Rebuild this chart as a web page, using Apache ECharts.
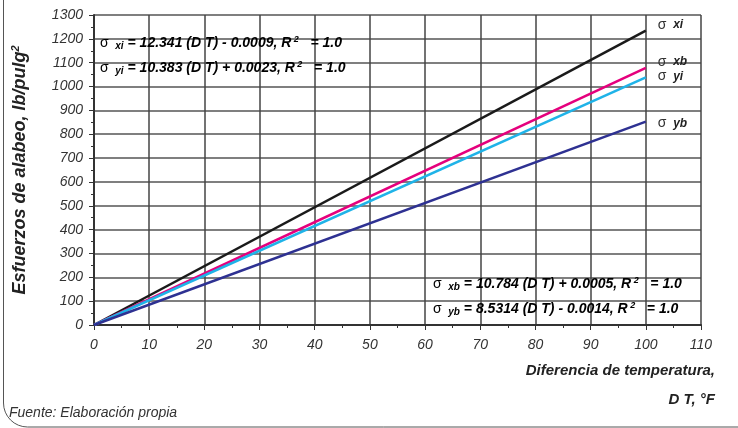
<!DOCTYPE html>
<html><head><meta charset="utf-8">
<script src="https://cdn.jsdelivr.net/npm/echarts@6/dist/echarts.min.js"></script>
<style>html,body{margin:0;padding:0;background:#fff}#c{width:738px;height:428px}</style>
</head><body><div id="c"></div>
<script>
const xValues = [0, 100];
const sigmaXi = [0, 1234.1];
const sigmaXb = [0, 1078.4];
const sigmaYi = [0, 1038.3];
const sigmaYb = [0, 853.1];
const seriesNames = ['xi', 'xb', 'yi', 'yb'];
const xTicks = [0, 10, 20, 30, 40, 50, 60, 70, 80, 90, 100, 110];
const yTicks = [0, 100, 200, 300, 400, 500, 600, 700, 800, 900, 1000, 1100, 1200, 1300];

const FF = '"Liberation Sans", Arial, sans-serif';
const chart = echarts.init(document.getElementById('c'));
function pairs(ys){ return xValues.map((x,i)=>[x, ys[i]]); }
const colors = ['#1a1a1a', '#e5007d', '#1fb3e8', '#2e3192'];
const offsets = [[4,-6],[4,-6],[4,-1],[4,2]];
const datas = [sigmaXi, sigmaXb, sigmaYi, sigmaYb];

const eqRich = {
  g: {fontFamily: FF, fontSize: 14, color: '#333', fontWeight: 'normal'},
  sub: {fontFamily: FF, fontSize: 10, fontStyle: 'italic', fontWeight: 'bold', color: '#222', verticalAlign: 'bottom', padding:[5,0,0,0]},
  b: {fontFamily: FF, fontSize: 14, fontStyle: 'italic', fontWeight: 'bold', color: '#222'},
  sup: {fontFamily: FF, fontSize: 9, fontStyle: 'italic', fontWeight: 'bold', color: '#222', verticalAlign: 'top', padding:[0,0,7,0]}
};
function eq(sub, rest1, rest2){
  return '{g|σ}  {sub|' + sub + '}{b| = ' + rest1 + ', R}{sup| 2}{b|   ' + rest2 + '}';
}

chart.setOption({
  animation: false,
  grid: {left: 94, right: 37, top: 15, bottom: 103},
  xAxis: {
    type: 'value', min: 0, max: 110, interval: 10,
    axisLine: {show: true, lineStyle: {color: '#333', width: 2}},
    axisTick: {show: true, length: 5, lineStyle: {color: '#333', width: 1}},
    minorTick: {show: true, splitNumber: 2, length: 3, lineStyle: {color: '#333'}},
    axisLabel: {fontFamily: FF, fontSize: 14, fontStyle: 'italic', color: '#333', margin: 13,
      formatter: v => xTicks.includes(v) ? String(v) : ''},
    splitLine: {show: true, lineStyle: {color: '#444', width: 1.5}}
  },
  yAxis: {
    type: 'value', min: 0, max: 1300, interval: 100,
    name: '{a|Esfuerzos de alabeo, lb/pulg}{s|2}',
    nameLocation: 'middle', nameGap: 64, nameRotate: 90,
    nameTextStyle: {rich: {
      a: {fontFamily: FF, fontSize: 18, fontStyle: 'italic', fontWeight: 'bold', color: '#222'},
      s: {fontFamily: FF, fontSize: 11, fontStyle: 'italic', fontWeight: 'bold', color: '#222', verticalAlign: 'top', padding:[0,0,9,0]}
    }},
    axisLine: {show: true, lineStyle: {color: '#333', width: 2}},
    axisTick: {show: true, length: 5, lineStyle: {color: '#333', width: 1}},
    minorTick: {show: true, splitNumber: 2, length: 3, lineStyle: {color: '#333'}},
    axisLabel: {fontFamily: FF, fontSize: 14, fontStyle: 'italic', color: '#333', margin: 11,
      formatter: v => yTicks.includes(v) ? String(v) : ''},
    splitLine: {show: true, lineStyle: {color: '#555', width: 1.5}}
  },
  series: datas.map((d,i)=>({
    type: 'line', name: seriesNames[i], data: pairs(d), showSymbol: false, symbol: 'none',
    lineStyle: {color: colors[i], width: 2.5}, z: 3,
    endLabel: {show: true, offset: offsets[i], formatter: '{g|σ}  {n|' + seriesNames[i] + '}',
      rich: {g: {fontFamily: FF, fontSize: 14, color: '#333'}, n: {fontFamily: FF, fontSize: 12, fontStyle: 'italic', fontWeight: 'bold', color: '#222'}}}
  })),
  graphic: [
    {type: 'rect', shape: {x: 3.5, y: -40, width: 760, height: 467, r: 24}, style: {fill: 'none', stroke: '#555', lineWidth: 1}, z: -1},
    {type: 'text', left: 100, top: 35, style: {text: eq('xi', '12.341 (D T) - 0.0009', '= 1.0'), rich: eqRich}, z: 10},
    {type: 'text', left: 100, top: 60, style: {text: eq('yi', '10.383 (D T) + 0.0023', '= 1.0'), rich: eqRich}, z: 10},
    {type: 'text', left: 433, top: 276, style: {text: eq('xb', '10.784 (D T) + 0.0005', '= 1.0'), rich: eqRich}, z: 10},
    {type: 'text', left: 433, top: 301, style: {text: eq('yb', '8.5314 (D T) - 0.0014', '= 1.0'), rich: eqRich}, z: 10},
    {type: 'text', right: 23, top: 363, style: {text: 'Diferencia de temperatura,', font: 'italic bold 15px ' + FF, fill: '#222', textAlign: 'right'}},
    {type: 'text', right: 23, top: 392, style: {text: 'D T, °F', font: 'italic bold 15px ' + FF, fill: '#222', textAlign: 'right'}},
    {type: 'text', left: 9, top: 406, style: {text: 'Fuente: Elaboración propia', font: 'italic 14px ' + FF, fill: '#333'}}
  ]
});
</script></body></html>
